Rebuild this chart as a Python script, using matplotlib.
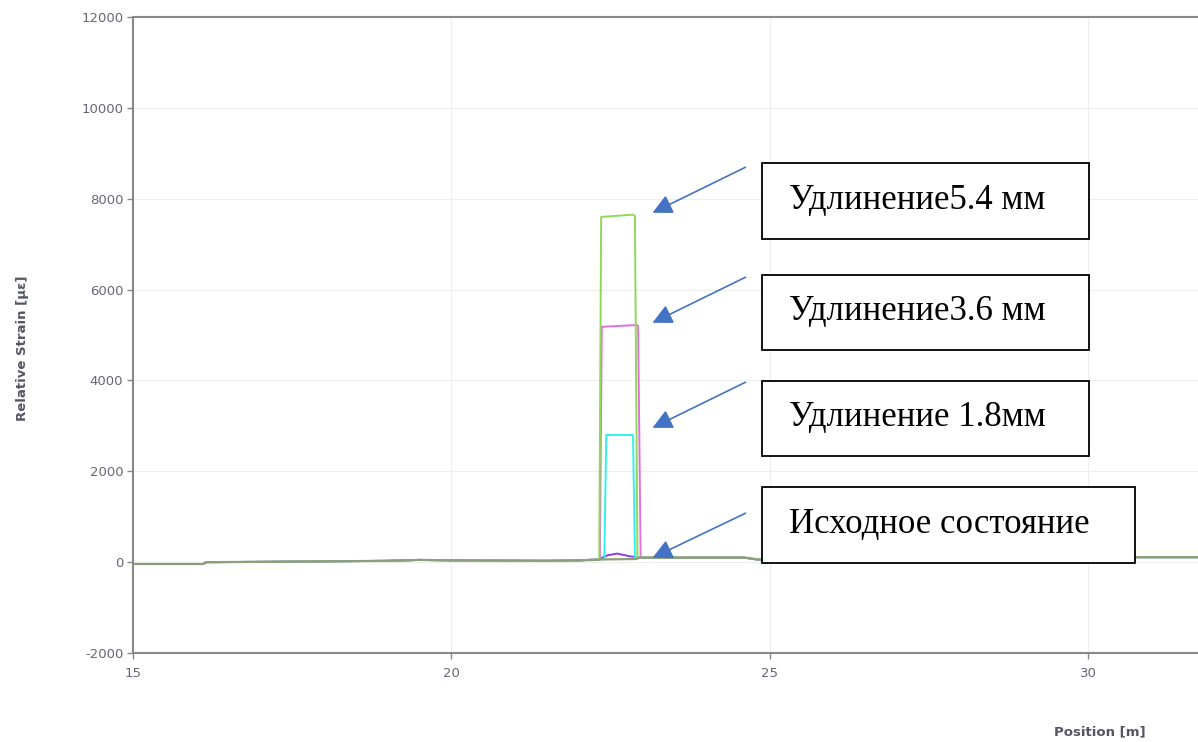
import matplotlib
matplotlib.use("Agg")
import matplotlib.pyplot as plt

plt.rcParams["axes.unicode_minus"] = False

# Strain profiles along the fibre (position in m, strain in microstrain)
pos_ref = [15.0, 16.1, 16.15, 17.3, 19.0, 19.5, 20.0, 21.5, 22.0, 22.3, 22.35, 22.9, 22.95, 24.6, 24.8, 30.0, 30.5, 31.72]
strain_ref = [-40, -40, 0, 10, 30, 50, 40, 30, 40, 50, 60, 70, 100, 100, 60, 60, 110, 110]

pos_base = [15.0, 16.1, 16.15, 17.3, 19.0, 19.5, 20.0, 21.5, 22.0, 22.3, 22.45, 22.6, 22.8, 22.95, 24.6, 24.8, 30.0, 30.5, 31.72]
strain_base = [-40, -40, 0, 10, 30, 50, 40, 30, 40, 60, 150, 190, 130, 100, 100, 60, 60, 110, 110]

pos_18 = [15.0, 16.1, 16.15, 17.3, 19.0, 19.5, 20.0, 21.5, 22.0, 22.3, 22.4, 22.43, 22.85, 22.88, 22.95, 24.6, 24.8, 30.0, 30.5, 31.72]
strain_18 = [-40, -40, 0, 10, 30, 50, 40, 30, 40, 60, 70, 2800, 2800, 100, 100, 100, 60, 60, 110, 110]

pos_36 = [15.0, 16.1, 16.15, 17.3, 19.0, 19.5, 20.0, 21.5, 22.0, 22.3, 22.33, 22.36, 22.9, 22.93, 22.97, 24.6, 24.8, 30.0, 30.5, 31.72]
strain_36 = [-40, -40, 0, 10, 30, 50, 40, 30, 40, 60, 70, 5180, 5220, 5200, 100, 100, 60, 60, 110, 110]

pos_54 = [15.0, 16.1, 16.15, 17.3, 19.0, 19.5, 20.0, 21.5, 22.0, 22.3, 22.32, 22.35, 22.85, 22.88, 22.92, 24.6, 24.8, 30.0, 30.5, 31.72]
strain_54 = [-40, -40, 0, 10, 30, 50, 40, 30, 40, 60, 70, 7600, 7650, 7620, 100, 100, 60, 60, 110, 110]

labels = ["Удлинение5.4 мм", "Удлинение3.6 мм", "Удлинение 1.8мм", "Исходное состояние"]

x_ticks = [15, 20, 25, 30]
y_ticks = [-2000, 0, 2000, 4000, 6000, 8000, 10000, 12000]

fig = plt.figure(figsize=(11.98, 7.42), dpi=100)
ax = fig.add_axes([0.1110, 0.1199, 0.889, 0.8571])

ax.plot(pos_base, strain_base, color="#8a3cf0", lw=1.4, zorder=3)
ax.plot(pos_18, strain_18, color="#33f0f0", lw=1.4, zorder=4)
ax.plot(pos_36, strain_36, color="#e070e0", lw=1.4, zorder=5)
ax.plot(pos_54, strain_54, color="#90d858", lw=1.4, zorder=6)
ax.plot(pos_ref, strain_ref, color="#8c9e7c", lw=1.6, zorder=7)

ax.set_xlim(15, 31.72)
ax.set_ylim(-2000, 12000)
ax.set_xticks(x_ticks)
ax.set_yticks(y_ticks)
ax.grid(True, color="#eeeeee", lw=0.8)
ax.set_axisbelow(True)
for s in ["top", "left", "bottom"]:
    ax.spines[s].set_color("#888888")
    ax.spines[s].set_linewidth(1.5)
ax.spines["right"].set_visible(False)
ax.tick_params(colors="#777777", labelsize=9.5, length=4, width=1, color="#888888", pad=3)
ax.tick_params(axis="x", pad=6)
for t in ax.get_xticklabels() + ax.get_yticklabels():
    t.set_color("#666677")

fig.text(0.019, 0.53, "Relative Strain [µε]", rotation=90, fontsize=9.5, fontweight="bold",
         color="#555566", ha="center", va="center")
fig.text(0.956, 0.005, "Position [m]", fontsize=9.5, fontweight="bold",
         color="#555566", ha="right", va="bottom")

# Callout boxes: (left px, top px, right px, bottom px) and arrow tail/head in pixels
W, H = 1198, 742
boxes = [(762, 163, 1089, 239), (762, 275, 1089, 350), (762, 381, 1089, 456), (762, 487, 1135, 563)]
arrows = [((748, 166), (650, 214)), ((748, 276), (650, 324)), ((748, 381), (650, 429)), ((748, 512), (650, 559))]

for (l, t, r, b), txt, (tail, head) in zip(boxes, labels, arrows):
    rect = plt.Rectangle((l / W, 1 - b / H), (r - l) / W, (b - t) / H, transform=fig.transFigure,
                         facecolor="white", edgecolor="black", lw=1.3, zorder=10)
    fig.add_artist(rect)
    fig.text((l + 27) / W, 1 - ((t + b) / 2 - 1) / H, txt, fontsize=25, family="Liberation Serif",
             ha="left", va="center", zorder=11)
    ax.annotate("", xy=(head[0] / W, 1 - head[1] / H), xycoords="figure fraction",
                xytext=(tail[0] / W, 1 - tail[1] / H), textcoords="figure fraction",
                arrowprops=dict(arrowstyle="-|>,head_length=1.2,head_width=0.6", color="#4472c4", lw=1.2),
                zorder=12)

fig.savefig("out.png", dpi=100)
